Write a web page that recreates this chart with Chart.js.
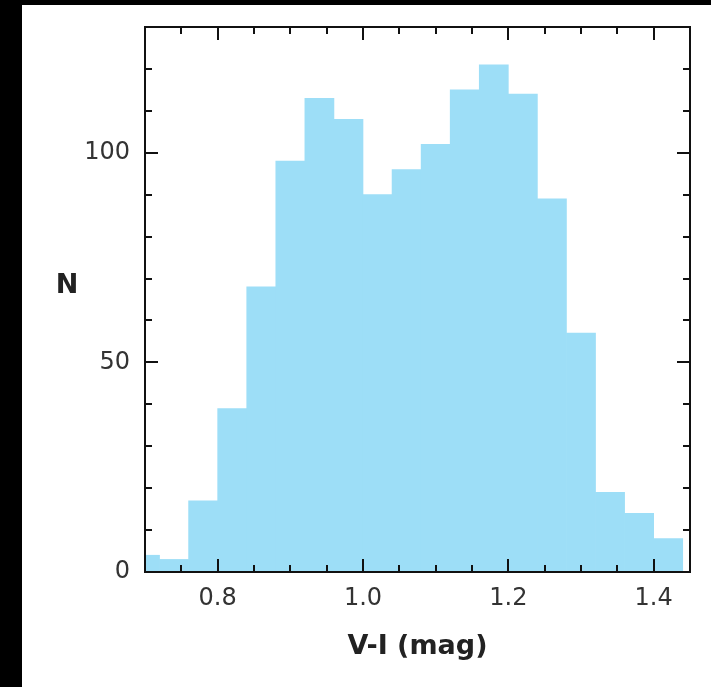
<!DOCTYPE html>
<html><head><meta charset="utf-8">
<script src="https://cdn.jsdelivr.net/npm/chart.js@4.4.1/dist/chart.umd.min.js"></script>
<style>
html,body{margin:0;padding:0;background:#000;width:711px;height:687px;overflow:hidden}
#wrap{position:absolute;left:22px;top:5px;width:689px;height:682px;background:#fff}
canvas{display:block}
</style></head><body>
<div id="wrap"><canvas id="c" width="689" height="682"></canvas></div>
<script>
// Histogram of V-I colour (bin width 0.04)
const binCenters = [0.70, 0.74, 0.78, 0.82, 0.86, 0.90, 0.94, 0.98, 1.02, 1.06, 1.10, 1.14, 1.18, 1.22, 1.26, 1.30, 1.34, 1.38, 1.42];
const counts     = [4, 3, 17, 39, 68, 98, 113, 108, 90, 96, 102, 115, 121, 114, 89, 57, 19, 14, 8];
const xTickLabels = [0.8, 1.0, 1.2, 1.4];
const yTickLabels = [0, 50, 100];
const xTitle = 'V-I (mag)';
const yTitle = 'N';

const barColor = 'rgb(157,222,247)';
const FONT = 'DejaVu Sans';

const framePlugin = {
  id: 'frame',
  afterDatasetsDraw(chart) {
    const {ctx, chartArea: a, scales: {x, y}} = chart;
    ctx.save();
    ctx.strokeStyle = '#111';
    ctx.lineWidth = 2;
    ctx.beginPath();
    for (let k = 15; k <= 28; k++) {
      const px = Math.round(x.getPixelForValue(k * 0.05));
      const len = (k % 4 === 0) ? 13 : 7;
      ctx.moveTo(px, a.bottom); ctx.lineTo(px, a.bottom - len);
      ctx.moveTo(px, a.top); ctx.lineTo(px, a.top + len);
    }
    for (let v = 10; v <= 120; v += 10) {
      const py = Math.round(y.getPixelForValue(v));
      const len = (v % 50 === 0) ? 13 : 7;
      ctx.moveTo(a.left, py); ctx.lineTo(a.left + len, py);
      ctx.moveTo(a.right, py); ctx.lineTo(a.right - len, py);
    }
    ctx.stroke();
    ctx.strokeRect(a.left, a.top, a.right - a.left, a.bottom - a.top);
    ctx.fillStyle = '#222';
    ctx.font = 'bold 27px "' + FONT + '"';
    ctx.textAlign = 'center';
    ctx.textBaseline = 'middle';
    ctx.fillText(yTitle, a.left - 78, a.top + (a.bottom - a.top) * 0.476);
    ctx.restore();
  }
};

new Chart(document.getElementById('c'), {
  type: 'bar',
  data: {
    datasets: [{
      data: binCenters.map((c, i) => ({x: c, y: counts[i]})),
      backgroundColor: barColor,
      borderWidth: 0,
      barPercentage: 1,
      categoryPercentage: 1,
      clip: 0
    }]
  },
  options: {
    responsive: false,
    animation: false,
    events: [],
    layout: {padding: {top: 22, right: 21, left: 0, bottom: 0}},
    plugins: {legend: {display: false}, tooltip: {enabled: false}},
    scales: {
      x: {
        type: 'linear', min: 0.70, max: 1.45, offset: false,
        grid: {display: false, drawTicks: false},
        border: {display: false},
        afterBuildTicks: s => { s.ticks = xTickLabels.map(v => ({value: v})); },
        ticks: {padding: 12, color: '#333', font: {family: FONT, size: 24}, maxRotation: 0, autoSkip: false,
                callback: v => Number(v).toFixed(1)},
        title: {display: true, text: xTitle, color: '#222', font: {family: FONT, size: 27, weight: 'bold'},
                padding: {top: 0, bottom: 24}},
        afterFit: s => { s.height = 115; s.paddingLeft = 0; s.paddingRight = 0; }
      },
      y: {
        type: 'linear', min: 0, max: 130,
        grid: {display: false, drawTicks: false},
        border: {display: false},
        afterBuildTicks: s => { s.ticks = yTickLabels.map(v => ({value: v})); },
        ticks: {padding: 15, color: '#333', font: {family: FONT, size: 24}, autoSkip: false},
        afterFit: s => { s.width = 123; s.paddingTop = 0; s.paddingBottom = 0; }
      }
    }
  },
  plugins: [framePlugin]
});
</script>
</body></html>
